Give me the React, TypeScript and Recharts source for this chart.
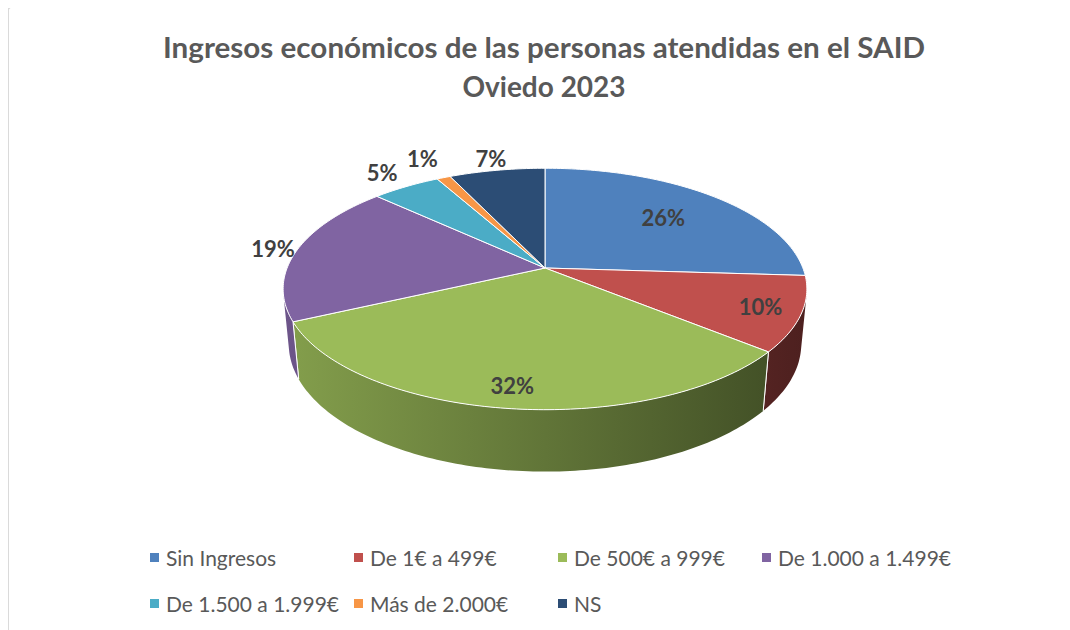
import { PieChart, Pie, Cell, Legend } from 'recharts';

const categories = [
  'Sin Ingresos',
  'De 1€ a 499€',
  'De 500€ a 999€',
  'De 1.000 a 1.499€',
  'De 1.500 a 1.999€',
  'Más de 2.000€',
  'NS',
];
const shares = [26, 10, 32, 19, 5, 1, 7];
const COLORS = ['#4F81BD', '#C0504D', '#9BBB59', '#8064A2', '#4BACC6', '#F79646', '#2C4D75'];

const TITLE_1 = 'Ingresos económicos de las personas atendidas en el SAID';
const TITLE_2 = 'Oviedo 2023';

const data = categories.map((name, i) => ({ name, value: shares[i] }));

// label distance from centre, in pie radii (Excel "best fit")
const LABEL_RHO = [0.68, 0.85, 0.86, 1.1, 1.2, 1.25, 1.15];

// perspective of the 3D pie
const TILT = (27 * Math.PI) / 180;
const CAM = 5.13; // camera distance, in pie radii
const FOCAL = 1323;
const THICK = 0.2415; // slab depth, in pie radii
const VIS = Math.acos(-1 / (CAM * Math.cos(TILT)));

const FONT = 'Lato, "Open Sans", sans-serif';

function project(cx: number, cy: number, rho: number, theta: number, h: number) {
  const X = rho * Math.sin(theta);
  const Y = rho * Math.cos(theta);
  const depth = CAM + Y * Math.cos(TILT) + h * Math.sin(TILT);
  const up = Y * Math.sin(TILT) - h * Math.cos(TILT);
  return [cx + (FOCAL * X) / depth, cy - (FOCAL * up) / depth];
}

const toTheta = (deg: number) => ((90 - deg) * Math.PI) / 180;

function shade(hex: string, k: number) {
  const n = parseInt(hex.slice(1), 16);
  const r = Math.round(((n >> 16) & 255) * k);
  const g = Math.round(((n >> 8) & 255) * k);
  const b = Math.round((n & 255) * k);
  return `rgb(${r},${g},${b})`;
}

function arcPts(cx: number, cy: number, a: number, b: number, h: number) {
  const steps = Math.max(2, Math.ceil(((b - a) * 180) / Math.PI));
  const pts: number[][] = [];
  for (let i = 0; i <= steps; i++) {
    pts.push(project(cx, cy, 1, a + ((b - a) * i) / steps, h));
  }
  return pts;
}

function Slice3D(props: any) {
  const { cx, cy, startAngle, endAngle, fill, index } = props;
  const t1 = toTheta(startAngle);
  const t2 = toTheta(endAngle);
  const top = arcPts(cx, cy, t1, t2, 0);
  const topPath = `M${cx},${cy} ` + top.map((p) => `L${p[0]},${p[1]}`).join(' ') + ' Z';

  const a = Math.max(t1, VIS);
  const b = Math.min(t2, 2 * Math.PI - VIS);
  let side = null;
  const edges: any[] = [];
  if (a < b) {
    const up = arcPts(cx, cy, a, b, 0);
    const down = arcPts(cx, cy, a, b, THICK).reverse();
    const d =
      up.map((p, i) => `${i ? 'L' : 'M'}${p[0]},${p[1]}`).join(' ') +
      ' ' +
      down.map((p) => `L${p[0]},${p[1]}`).join(' ') +
      ' Z';
    const gid = `side-${index}`;
    side = (
      <>
        <defs>
          <linearGradient id={gid} gradientUnits="userSpaceOnUse" x1={cx - 262} y1={0} x2={cx + 262} y2={0}>
            <stop offset="0%" stopColor={shade(fill, 0.85)} />
            <stop offset="100%" stopColor={shade(fill, 0.4)} />
          </linearGradient>
        </defs>
        <path d={d} fill={`url(#${gid})`} stroke="none" />
      </>
    );
    [t1, t2].forEach((t, k) => {
      if (t >= VIS && t <= 2 * Math.PI - VIS) {
        const p = project(cx, cy, 1, t, 0);
        const q = project(cx, cy, 1, t, THICK);
        edges.push(<line key={k} x1={p[0]} y1={p[1]} x2={q[0]} y2={q[1]} stroke="#fff" strokeWidth={1} />);
      }
    });
  }
  return (
    <g>
      {side}
      {edges}
      <path d={topPath} fill={fill} stroke="#fff" strokeWidth={1} strokeLinejoin="round" />
    </g>
  );
}

function renderLabel(props: any) {
  const { cx, cy, midAngle, index, percent } = props;
  const [x, y] = project(cx, cy, LABEL_RHO[index], toTheta(midAngle), 0);
  return (
    <text
      x={x}
      y={y}
      textAnchor="middle"
      dominantBaseline="central"
      fill="#404040"
      fontFamily={FONT}
      fontWeight={700}
      fontSize={22}
    >
      {`${Math.round(percent * 100)}%`}
    </text>
  );
}

function renderLegend(props: any) {
  const items = [...(props.payload || [])].sort(
    (p: any, q: any) => categories.indexOf(p.value) - categories.indexOf(q.value),
  );
  return (
    <div
      style={{
        display: 'grid',
        gridTemplateColumns: 'repeat(4, 204px)',
        gridAutoRows: '46px',
        fontFamily: FONT,
        fontSize: 21,
        color: '#595959',
      }}
    >
      {items.map((entry: any, i: number) => (
        <div key={i} style={{ display: 'flex', alignItems: 'center', whiteSpace: 'nowrap' }}>
          <span style={{ width: 9, height: 9, background: entry.color, marginRight: 7, flex: 'none' }} />
          <span>{entry.value}</span>
        </div>
      ))}
    </div>
  );
}

export default function App() {
  return (
    <div style={{ position: 'relative', width: 1063, height: 624, marginTop: -2, marginLeft: -1 }}>
      <div
        style={{
          position: 'absolute',
          left: 0,
          top: 0,
          width: 1080,
          height: 640,
          borderLeft: '2px solid #dadada',
          borderTop: '2px solid #dadada',
          borderTopLeftRadius: 4,
          boxSizing: 'border-box',
        }}
      />
      <svg width={1063} height={110} style={{ position: 'absolute', left: 0, top: 0 }}>
        <text
          x={537}
          y={52}
          textAnchor="middle"
          fontFamily={FONT}
          fontWeight={700}
          fontSize={28}
          fill="#595959"
          textLength={762}
          lengthAdjust="spacingAndGlyphs"
        >
          {TITLE_1}
        </text>
        <text x={537} y={91} textAnchor="middle" fontFamily={FONT} fontWeight={700} fontSize={28} fill="#595959">
          {TITLE_2}
        </text>
      </svg>
      <PieChart width={1063} height={624} margin={{ top: 0, right: 0, bottom: 0, left: 0 }} style={{ position: 'absolute', left: 0, top: 0 }}>
        <Pie
          data={data}
          dataKey="value"
          nameKey="name"
          cx={538}
          cy={262}
          outerRadius={120}
          startAngle={90}
          endAngle={-270}
          isAnimationActive={false}
          label={renderLabel}
          labelLine={false}
          shape={Slice3D}
          inactiveShape={Slice3D}
          activeShape={Slice3D}
          stroke="#fff"
        >
          {data.map((entry, index) => (
            <Cell key={`cell-${index}`} fill={COLORS[index]} />
          ))}
        </Pie>
        <Legend
          content={renderLegend}
          wrapperStyle={{ position: 'absolute', left: 143, top: 528, width: 820, height: 92 }}
        />
      </PieChart>
    </div>
  );
}
